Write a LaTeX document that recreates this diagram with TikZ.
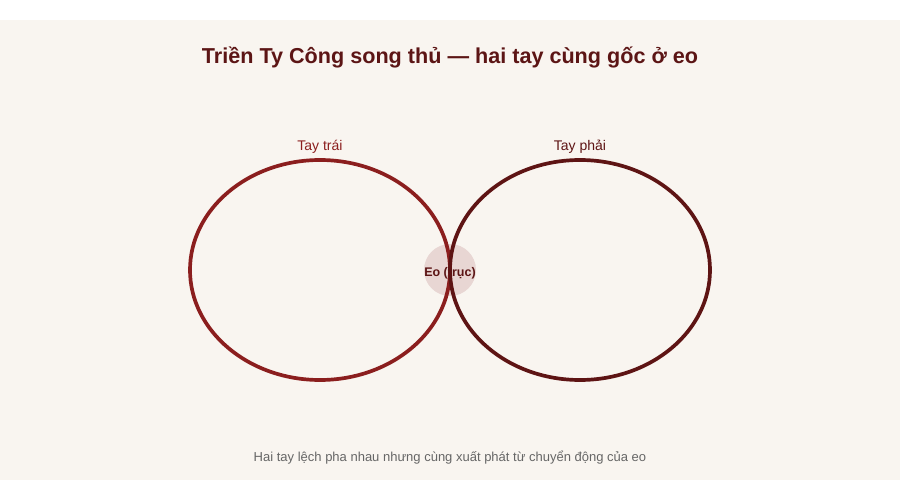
\documentclass[tikz,border=0pt]{standalone}
\usepackage{fontspec}
\setmainfont{Liberation Sans}
\definecolor{bgc}{HTML}{F9F5F0}
\definecolor{leftc}{HTML}{8B1E1E}
\definecolor{rightc}{HTML}{5E1414}
\definecolor{titlec}{HTML}{5C1515}
\definecolor{eofill}{HTML}{E8D6D3}
\definecolor{capc}{HTML}{666666}
\tikzset{
  arm/.style={line width=3.7pt},
  lbl/.style={font=\fontsize{14}{16}\selectfont, inner sep=0pt},
}
\begin{document}
\begin{tikzpicture}[x=1pt,y=-1pt]
\useasboundingbox (0,0) rectangle (900,500);
\fill[white] (0,0) rectangle (900,500);
\fill[bgc] (0,20) rectangle (900,480);
\node[font=\fontsize{21.6}{24}\selectfont\bfseries, text=titlec, inner sep=0pt] (title) at (450,57) {Triền Ty Công song thủ — hai tay cùng gốc ở eo};
\node[circle, fill=eofill, minimum size=52pt, inner sep=0pt] (eo) at (450,270) {};
\node[font=\fontsize{12.5}{14}\selectfont\bfseries, text=titlec, inner sep=0pt] (eolbl) at (450,273) {Eo (trục)};
\draw[arm, leftc] (320,270) ellipse [x radius=130, y radius=110];
\draw[arm, rightc] (580,270) ellipse [x radius=130, y radius=110];
\node[lbl, text=leftc] (lt) at (320,147) {Tay trái};
\node[lbl, text=rightc] (rt) at (580,147) {Tay phải};
\node[font=\fontsize{13}{15}\selectfont, text=capc, inner sep=0pt] (cap) at (450,458) {Hai tay lệch pha nhau nhưng cùng xuất phát từ chuyển động của eo};
\end{tikzpicture}
\end{document}
